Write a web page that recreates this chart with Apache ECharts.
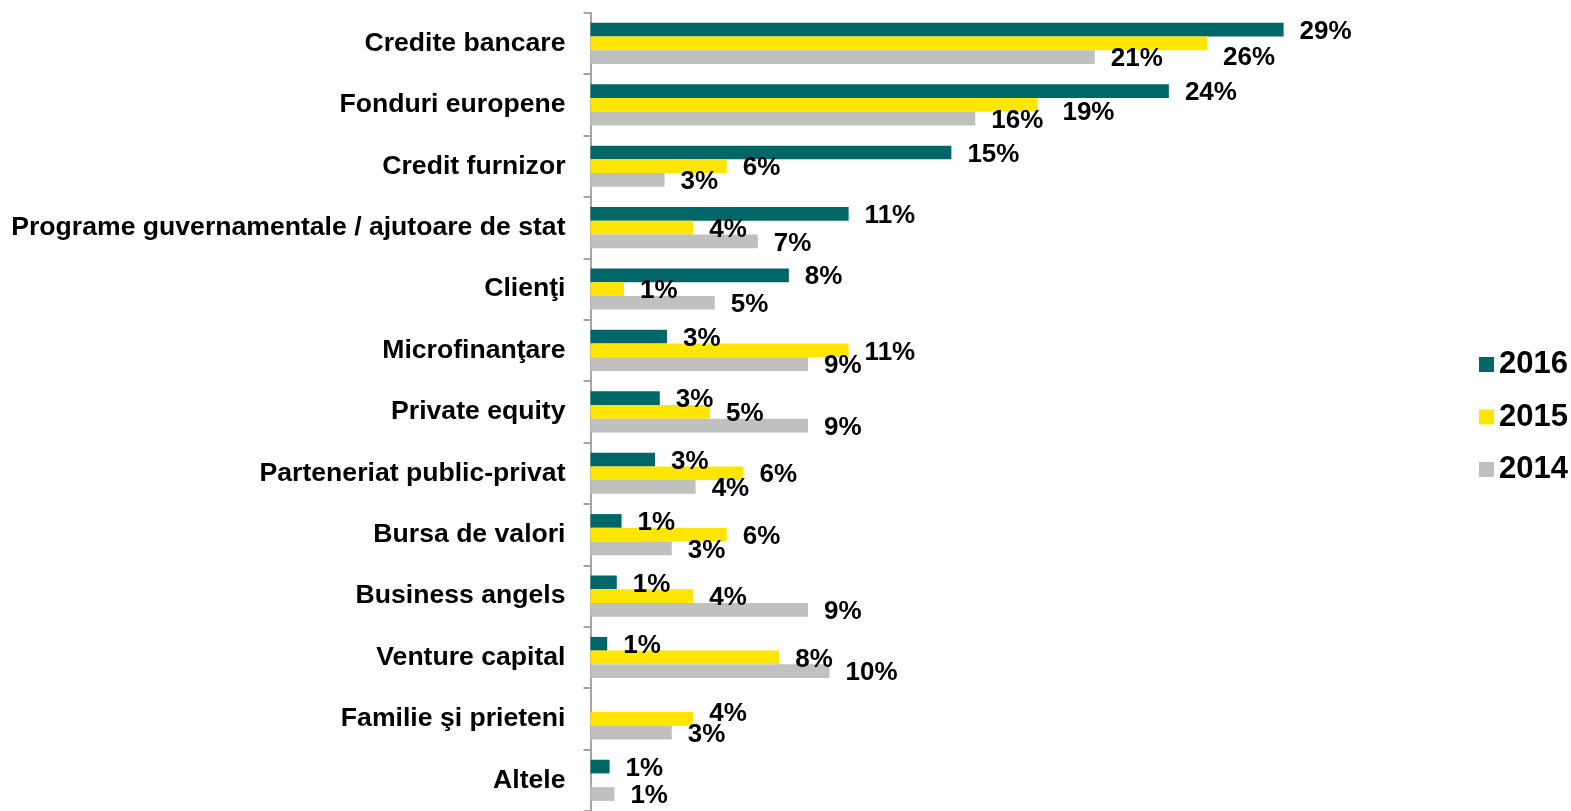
<!DOCTYPE html>
<html>
<head>
<meta charset="utf-8">
<script src="https://cdn.jsdelivr.net/npm/echarts@6/dist/echarts.min.js"></script>
<style>
html,body{margin:0;padding:0;background:#fff;}
#chart{width:1571px;height:811px;}
</style>
</head>
<body>
<div id="chart"></div>
<script>
const categories = [
  'Credite bancare',
  'Fonduri europene',
  'Credit furnizor',
  'Programe guvernamentale / ajutoare de stat',
  'Clienţi',
  'Microfinanţare',
  'Private equity',
  'Parteneriat public-privat',
  'Bursa de valori',
  'Business angels',
  'Venture capital',
  'Familie şi prieteni',
  'Altele'
];
const seriesNames = ['2016', '2015', '2014'];
const values2016 = [29.0, 24.2, 15.1, 10.8, 8.3, 3.2, 2.9, 2.7, 1.3, 1.1, 0.7, null, 0.8];
const values2015 = [25.8, 18.7, 5.7, 4.3, 1.4, 10.8, 5.0, 6.4, 5.7, 4.3, 7.9, 4.3, null];
const values2014 = [21.1, 16.1, 3.1, 7.0, 5.2, 9.1, 9.1, 4.4, 3.4, 9.1, 10.0, 3.4, 1.0];

const colors = ['#006769', '#FFE600', '#C0C0C0'];
// manual label nudges (series index -> category index -> [dx, dy])
const labelNudges = {1: {0: [0, 12], 1: [9, 6], 11: [0, -7]}};

const allValues = [values2016, values2015, values2014];
const font = '"Liberation Sans", Arial, sans-serif';

const series = allValues.map((vals, si) => ({
  name: seriesNames[si],
  type: 'bar',
  barGap: '0%',
  barCategoryGap: '33%',
  itemStyle: {color: colors[si]},
  label: {
    show: true,
    position: 'right',
    distance: 16,
    offset: [0, 2],
    color: '#000',
    fontFamily: font,
    fontWeight: 'bold',
    fontSize: 26,
    formatter: p => (p.value == null ? '' : Math.round(p.value) + '%')
  },
  data: vals.map((v, ci) => {
    const n = labelNudges[si] && labelNudges[si][ci];
    if (n && v != null) {
      return {value: v, label: {offset: [n[0], 2 + n[1]]}};
    }
    return v;
  })
}));

const chart = echarts.init(document.getElementById('chart'));
chart.setOption({
  animation: false,
  backgroundColor: '#fff',
  grid: {left: 590.5, top: 12.7, width: 956, height: 801},
  legend: {
    orient: 'vertical',
    left: 1474,
    top: 344,
    itemWidth: 15,
    itemHeight: 15,
    itemGap: 21.5,
    icon: 'rect',
    data: seriesNames,
    textStyle: {fontFamily: font, fontWeight: 'bold', fontSize: 31, color: '#000', lineHeight: 30, padding: [0, 0, 0, 0]}
  },
  xAxis: {
    type: 'value',
    min: 0,
    max: 40,
    show: false
  },
  yAxis: {
    type: 'category',
    inverse: true,
    data: categories,
    axisLine: {show: true, lineStyle: {color: '#888', width: 1.5}},
    axisTick: {show: true, length: 7, alignWithLabel: false, lineStyle: {color: '#888', width: 1.5}},
    axisLabel: {
      margin: 25,
      color: '#000',
      fontFamily: font,
      fontWeight: 'bold',
      fontSize: 26.6
    },
    splitLine: {show: false}
  },
  series: series
});
</script>
</body>
</html>
